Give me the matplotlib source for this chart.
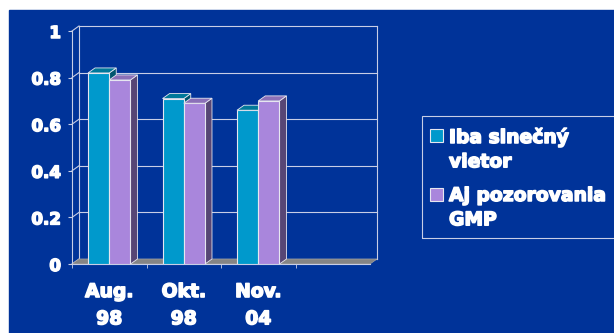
import matplotlib
matplotlib.use("Agg")
import matplotlib.pyplot as plt
import matplotlib.patheffects as pe
from matplotlib.patches import Polygon, Rectangle

# data
categories = ["Aug.\n98", "Okt.\n98", "Nov.\n04"]
solar_wind = [0.82, 0.71, 0.66]
with_gmp = [0.79, 0.69, 0.70]
series_names = ["Iba slnečný\nvietor", "Aj pozorovania\nGMP"]
yticks = [0, 0.2, 0.4, 0.6, 0.8, 1]
ytick_labels = ["0", "0.2", "0.4", "0.6", "0.8", "1"]

W, H = 614, 333
BLUE = "#003399"
LINE = "#C8CEE6"
front_cols = ["#0099CC", "#A986DC"]
top_cols = ["#00789A", "#8B70B8"]
side_cols = ["#00556E", "#574675"]
heavy = [pe.withStroke(linewidth=1.1, foreground="white")]


def fx(x):
    return x / W


def fy(y):
    return 1 - y / H


fig = plt.figure(figsize=(6.14, 3.33), dpi=100, facecolor="white")
fig.add_artist(Rectangle((fx(9), 0), 1, fy(10), transform=fig.transFigure,
                         color=BLUE, zorder=-10))

ax = fig.add_axes([fx(72), fy(264), 298 / W, 233 / H])
ax.patch.set_alpha(0)
ncat = 4
ax.set_xlim(0, ncat)
ax.set_ylim(0, 1)
for s in ["top", "right"]:
    ax.spines[s].set_visible(False)
for s in ["left", "bottom"]:
    ax.spines[s].set_color(LINE)
    ax.spines[s].set_linewidth(0.8)

# depth of the fake 3d box, in data units
dx = 7 / 298 * ncat
dy = 5 / 233

# back wall and side wall
for y in yticks:
    ax.plot([dx, ncat + dx], [y + dy, y + dy], color=LINE, lw=0.8, zorder=1, clip_on=False)
    ax.plot([0, dx], [y, y + dy], color=LINE, lw=0.8, zorder=1, clip_on=False)
ax.plot([dx, dx], [dy, 1 + dy], color=LINE, lw=0.8, zorder=1, clip_on=False)
ax.plot([ncat + dx, ncat + dx], [dy, 1 + dy], color=LINE, lw=0.8, zorder=1, clip_on=False)

# floor
ax.add_patch(Polygon([(0, 0), (ncat, 0), (ncat + dx, dy), (dx, dy)], closed=True,
                     facecolor="#858585", edgecolor="#A0A0A0", lw=0.5, zorder=1.5,
                     clip_on=False))

w = 0.285
pos = [i + 0.5 for i in range(len(categories))]
for k, vals in enumerate([solar_wind, with_gmp]):
    xs = [p - w / 2 + k * w for p in pos]
    z = 3 + k
    bars = ax.bar(xs, vals, w, color=front_cols[k], edgecolor="#E6E6F0", lw=0.8,
                  zorder=z)
    for b in bars:
        x0 = b.get_x()
        x1 = x0 + b.get_width()
        h = b.get_height()
        ax.add_patch(Polygon([(x0, h), (x1, h), (x1 + dx, h + dy), (x0 + dx, h + dy)],
                             closed=True, facecolor=top_cols[k], edgecolor="#E6E6F0",
                             lw=0.6, zorder=z, clip_on=False))
        ax.add_patch(Polygon([(x1, 0), (x1, h), (x1 + dx, h + dy), (x1 + dx, dy)],
                             closed=True, facecolor=side_cols[k], edgecolor="#E6E6F0",
                             lw=0.6, zorder=z - 0.1, clip_on=False))

ax.set_yticks(yticks, ytick_labels)
ax.tick_params(axis="y", length=3, color=LINE, labelcolor="white", pad=5,
               labelsize=12)
for lbl in ax.get_yticklabels():
    lbl.set_fontweight("bold")
    lbl.set_path_effects(heavy)

ax.set_xticks(pos, categories)
ax.set_xticks(range(ncat), minor=True)
ax.tick_params(axis="x", which="major", length=0, labelcolor="white", pad=13,
               labelsize=13.5)
ax.tick_params(axis="x", which="minor", length=3, color=LINE)
for lbl in ax.get_xticklabels():
    lbl.set_fontweight("bold")
    lbl.set_linespacing(1.55)
    lbl.set_path_effects(heavy)

# legend drawn by hand, in pixel positions of the slide
fig.add_artist(Rectangle((fx(422), fy(238)), fx(630) - fx(422), fy(116) - fy(238),
                         transform=fig.transFigure, facecolor="none",
                         edgecolor=LINE, lw=0.8))
for k, (name, top) in enumerate(zip(series_names, [127, 186])):
    sq_top = top + 2
    fig.add_artist(Rectangle((fx(430), fy(sq_top + 13)), 13 / W, 13 / H,
                             transform=fig.transFigure, facecolor=front_cols[k],
                             edgecolor="#E6E6F0", lw=0.8))
    fig.text(fx(449), fy(top), name, color="white", fontsize=13.5, fontweight="bold",
             va="top", ha="left", linespacing=1.35, path_effects=heavy)

fig.savefig("out.png", dpi=100, facecolor=fig.get_facecolor())
